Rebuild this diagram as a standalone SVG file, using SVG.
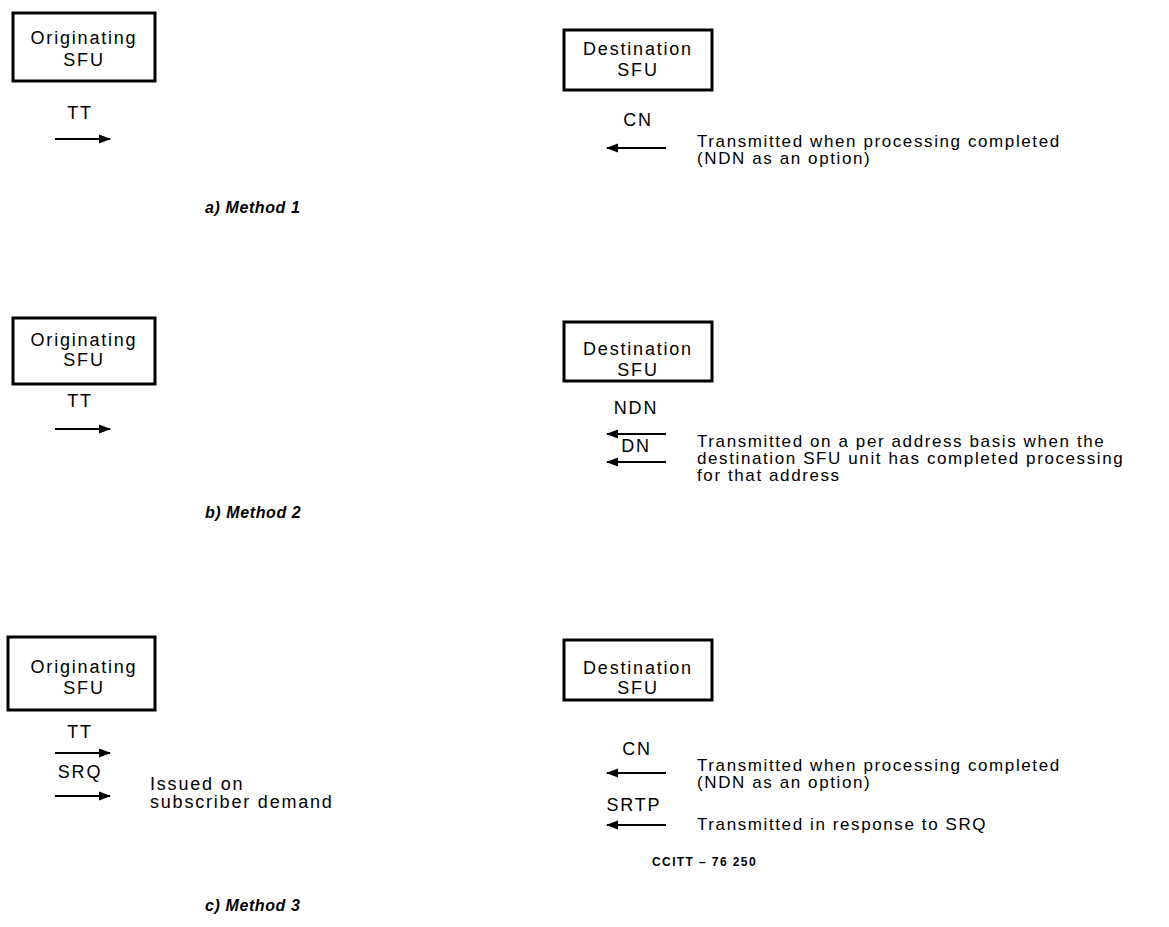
<svg xmlns="http://www.w3.org/2000/svg" width="1169" height="927" viewBox="0 0 1169 927">
<style>
.bg{fill:#fff}
.box{fill:#fff;stroke:#000;stroke-width:3}
.t{font-family:"Liberation Sans",Arial,sans-serif;font-size:18px;letter-spacing:1.8px;fill:#000}
.n{font-family:"Liberation Sans",Arial,sans-serif;font-size:17px;letter-spacing:1.6px;fill:#000}
.c{text-anchor:middle}
.lab{font-family:"Liberation Sans",Arial,sans-serif;font-size:16px;font-weight:bold;font-style:italic;letter-spacing:0.6px;fill:#000}
.small{font-family:"Liberation Sans",Arial,sans-serif;font-size:12px;font-weight:bold;letter-spacing:1.4px;fill:#000}
.arr{stroke:#000;stroke-width:2;fill:none}
.r{marker-end:url(#ah)}
</style>
<defs>
<marker id="ah" markerWidth="12" markerHeight="10" refX="11" refY="5" orient="auto" markerUnits="userSpaceOnUse">
<path d="M0,0.5 L12,5 L0,9.5 Z" fill="#000"/>
</marker>
</defs>
<rect class="bg" x="0" y="0" width="1169" height="927"/>

<g id="orig1"><rect class="box" x="13" y="13" width="142" height="68"/><text class="t c" x="84" y="44">Originating</text><text class="t c" x="84" y="66">SFU</text></g>
<g id="dest1"><rect class="box" x="564" y="30" width="148" height="60"/><text class="t c" x="638" y="55">Destination</text><text class="t c" x="638" y="76">SFU</text></g>
<g id="orig2"><rect class="box" x="13" y="318" width="142" height="66"/><text class="t c" x="84" y="346">Originating</text><text class="t c" x="84" y="366">SFU</text></g>
<g id="dest2"><rect class="box" x="564" y="322" width="148" height="59"/><text class="t c" x="638" y="355">Destination</text><text class="t c" x="638" y="376">SFU</text></g>
<g id="orig3"><rect class="box" x="8" y="637" width="147" height="73"/><text class="t c" x="84" y="673">Originating</text><text class="t c" x="84" y="694">SFU</text></g>
<g id="dest3"><rect class="box" x="564" y="640" width="148" height="60"/><text class="t c" x="638" y="674">Destination</text><text class="t c" x="638" y="694">SFU</text></g>

<g id="connectors">
<line class="arr r" x1="55" y1="139" x2="110" y2="139"/>
<line class="arr r" x1="666" y1="148" x2="607" y2="148"/>
<line class="arr r" x1="55" y1="429" x2="110" y2="429"/>
<line class="arr r" x1="666" y1="434" x2="607" y2="434"/>
<line class="arr r" x1="666" y1="462" x2="607" y2="462"/>
<line class="arr r" x1="55" y1="753" x2="110" y2="753"/>
<line class="arr r" x1="55" y1="796" x2="110" y2="796"/>
<line class="arr r" x1="666" y1="773" x2="607" y2="773"/>
<line class="arr r" x1="666" y1="825" x2="607" y2="825"/>
</g>

<g id="labels">
<text class="t c" x="80" y="119">TT</text>
<text class="t c" x="638" y="126">CN</text>
<text class="n" x="697" y="147">Transmitted when processing completed</text>
<text class="n" x="697" y="164">(NDN as an option)</text>
<text class="lab" x="205" y="213">a)  Method 1</text>

<text class="t c" x="80" y="407">TT</text>
<text class="t c" x="636" y="414">NDN</text>
<text class="t c" x="636" y="452">DN</text>
<text class="n" x="697" y="447">Transmitted on a per address basis when the</text>
<text class="n" x="697" y="464">destination SFU unit has completed processing</text>
<text class="n" x="697" y="481">for that address</text>
<text class="lab" x="205" y="518">b)  Method 2</text>

<text class="t c" x="80" y="738">TT</text>
<text class="t c" x="80" y="778">SRQ</text>
<text class="t" x="150" y="790">Issued on</text>
<text class="t" x="150" y="808">subscriber demand</text>
<text class="t c" x="637" y="755">CN</text>
<text class="n" x="697" y="771">Transmitted when processing completed</text>
<text class="n" x="697" y="788">(NDN as an option)</text>
<text class="t c" x="634" y="811">SRTP</text>
<text class="n" x="697" y="830">Transmitted in response to SRQ</text>
<text class="small" x="652" y="866">CCITT – 76 250</text>
<text class="lab" x="205" y="911">c)  Method 3</text>
</g>
</svg>
